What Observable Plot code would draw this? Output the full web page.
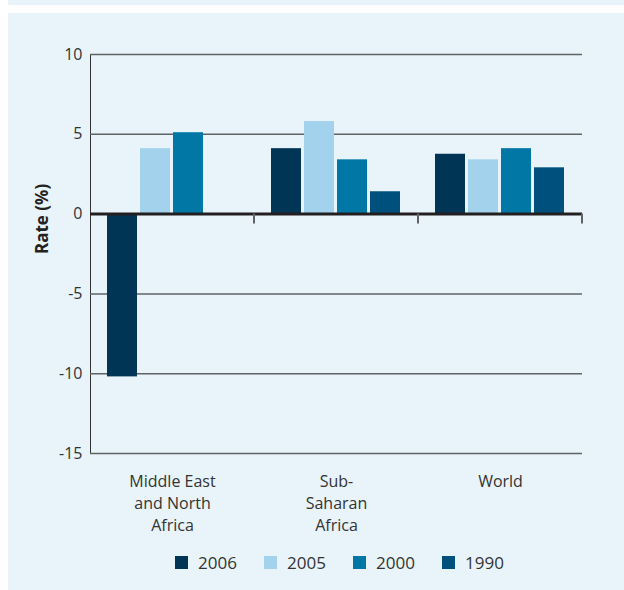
<!DOCTYPE html>
<html>
<head>
<meta charset="utf-8">
<script src="https://cdn.jsdelivr.net/npm/d3@7"></script>
<script src="https://cdn.jsdelivr.net/npm/@observablehq/plot@0.6"></script>
<style>
  html, body { margin: 0; padding: 0; background: #ffffff; }
  body { width: 624px; height: 590px; position: relative; overflow: hidden; font-family: "Open Sans", sans-serif; }
  #topband { position: absolute; left: 8px; top: 0; width: 616px; height: 5px; background: #e8f3fa; }
  #panel { position: absolute; left: 8px; top: 13px; width: 616px; height: 577px; background: #e8f3fa; }
  #chart { position: absolute; left: 0; top: 0; }
  #legend { position: absolute; left: 167px; top: 533px; }
  #legend .lg-swatches { font-family: "Open Sans", sans-serif !important; font-size: 17px !important; color: #333 !important; }
  #legend .lg-swatch { margin-right: 0 !important; width: 89px !important; }
  #legend .lg-swatch > svg { margin-right: 10px !important; }
</style>
</head>
<body>
<div id="topband"></div>
<div id="panel">
  <div id="chart"></div>
  <div id="legend"></div>
</div>
<script>
const regions = ["Middle East\nand North\nAfrica", "Sub-\nSaharan\nAfrica", "World"];
const years = ["2006", "2005", "2000", "1990"];
const colors = ["#003556", "#a3d3ec", "#0077a5", "#00507d"];
const menaValues = [-10.2, 4.1, 5.1, null];
const ssaValues = [4.1, 5.8, 3.4, 1.4];
const worldValues = [3.75, 3.4, 4.1, 2.9];
const yTicks = [10, 5, 0, -5, -10, -15];
const yTitle = "Rate (%)";

const seriesByRegion = [menaValues, ssaValues, worldValues];
const data = [];
regions.forEach((r, i) => {
  years.forEach((yr, j) => {
    const v = seriesByRegion[i][j];
    if (v != null) data.push({region: r, year: yr, value: v});
  });
});

const plot = Plot.plot({
  width: 616,
  height: 530,
  marginLeft: 82,
  marginRight: 42,
  marginTop: 41,
  marginBottom: 90,
  style: {background: "transparent", fontFamily: "Open Sans, sans-serif", fontSize: "16px", color: "#333", overflow: "visible"},
  fx: {domain: regions, padding: 0, axis: null},
  x: {domain: years, paddingInner: 0.0909, paddingOuter: 0.53, axis: null},
  y: {domain: [-15, 10], ticks: yTicks, tickSize: 0, tickPadding: 8, tickFormat: d => String(d), fontSize: 16, label: null, line: true},
  color: {domain: years, range: colors},
  marks: [
    Plot.ruleY(yTicks.filter(d => d !== 0), {stroke: "#5f6366", strokeWidth: 1.5}),
    Plot.barY(data, {fx: "region", x: "year", y: "value", fill: "year"}),
    Plot.ruleY([0], {stroke: "#231f20", strokeWidth: 3}),
    Plot.text(regions, {fx: d => d, text: d => d, frameAnchor: "bottom", lineAnchor: "top", dy: 18, lineHeight: 1.375, fontSize: 16, fill: "#333"}),
    Plot.text([{r: regions[0], t: yTitle}], {fx: "r", text: "t", frameAnchor: "left", rotate: -90, dx: -48, fontWeight: "bold", fontSize: 17, fill: "#222"})
  ]
});
document.getElementById("chart").appendChild(plot);

// Category boundary ticks below the zero line, from the library's own scales
(function() {
  const fx = plot.scale("fx");
  const y = plot.scale("y");
  const yScale = d3.scaleLinear().domain(y.domain).range(y.range);
  const y0 = yScale(0);
  const start = fx.range[0];
  const step = fx.step || fx.bandwidth;
  const svg = d3.select(plot);
  for (let i = 1; i <= regions.length; i++) {
    const xx = start + i * step;
    svg.append("line")
      .attr("x1", xx).attr("x2", xx)
      .attr("y1", y0).attr("y2", y0 + 10)
      .attr("stroke", "#5f6366").attr("stroke-width", 2);
  }
})();

const legend = Plot.legend({
  color: {domain: years, range: colors},
  legend: "swatches",
  swatchSize: 13,
  className: "lg"
});
document.getElementById("legend").appendChild(legend);
</script>
</body>
</html>
